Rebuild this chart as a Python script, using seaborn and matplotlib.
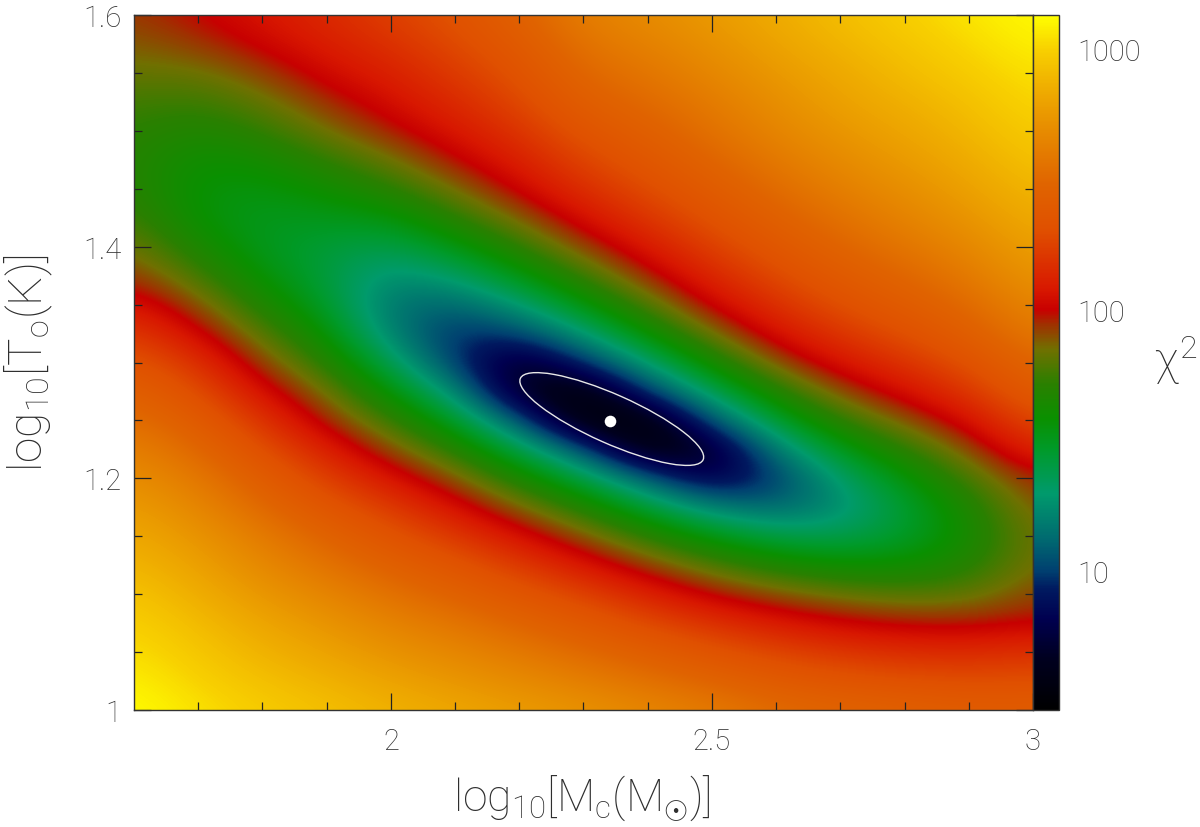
import numpy as np
import matplotlib
matplotlib.use("Agg")
import matplotlib.pyplot as plt
import seaborn as sns
from matplotlib.colors import LinearSegmentedColormap, Normalize
from matplotlib.patches import Ellipse
from matplotlib.transforms import Affine2D
from matplotlib.ticker import FixedLocator, NullFormatter, FixedFormatter

# grid positions of the estimated field
log_mc = [1.6, 1.7, 1.8, 1.9, 2.0, 2.1, 2.2, 2.3, 2.4, 2.5, 2.6, 2.7, 2.8, 2.9, 3.0]
log_t_top_down = [1.6, 1.575, 1.55, 1.525, 1.5, 1.475, 1.45, 1.425, 1.4, 1.375, 1.35, 1.325, 1.3,
                  1.275, 1.25, 1.225, 1.2, 1.175, 1.15, 1.125, 1.1, 1.075, 1.05, 1.025, 1.0]

# log10(chi^2), one list per log_mc column, top to bottom
c160 = [1.93,1.88,1.83,1.76,1.72,1.70,1.71,1.76,1.85,1.94,2.08,2.22,2.35,2.45,2.54,2.63,2.70,2.77,2.83,2.89,2.95,3.00,3.04,3.09,3.13]
c170 = [2.00,1.93,1.83,1.74,1.66,1.59,1.56,1.57,1.65,1.77,1.90,2.03,2.18,2.30,2.41,2.50,2.59,2.66,2.73,2.79,2.85,2.91,2.96,3.00,3.05]
c180 = [2.07,2.02,1.92,1.82,1.72,1.62,1.54,1.50,1.50,1.56,1.67,1.80,1.92,2.05,2.19,2.31,2.42,2.51,2.60,2.67,2.74,2.81,2.87,2.93,2.98]
c190 = [2.15,2.10,2.04,1.95,1.85,1.72,1.61,1.51,1.43,1.42,1.47,1.58,1.71,1.85,1.96,2.11,2.24,2.36,2.47,2.56,2.65,2.73,2.80,2.87,2.93]
c200 = [2.24,2.18,2.11,2.05,1.97,1.84,1.70,1.54,1.38,1.23,1.15,1.20,1.37,1.57,1.75,1.91,2.07,2.22,2.34,2.45,2.55,2.64,2.72,2.80,2.87]
c210 = [2.33,2.28,2.22,2.15,2.08,1.99,1.86,1.71,1.53,1.32,1.10,0.95,0.99,1.24,1.49,1.71,1.90,2.06,2.21,2.35,2.46,2.57,2.66,2.74,2.82]
c220 = [2.45,2.39,2.33,2.27,2.19,2.11,2.02,1.88,1.72,1.53,1.29,1.00,0.64,0.64,1.06,1.41,1.67,1.88,2.06,2.22,2.36,2.48,2.59,2.68,2.77]
c230 = [2.62,2.56,2.50,2.43,2.35,2.26,2.17,2.06,1.92,1.75,1.55,1.29,0.95,0.50,0.50,1.04,1.42,1.69,1.90,2.08,2.25,2.39,2.51,2.62,2.72]
c240 = [2.68,2.63,2.57,2.51,2.44,2.37,2.29,2.20,2.09,1.96,1.79,1.59,1.32,0.98,0.50,0.52,1.08,1.45,1.72,1.93,2.12,2.28,2.43,2.55,2.66]
c250 = [2.76,2.71,2.66,2.60,2.55,2.48,2.41,2.33,2.24,2.14,2.02,1.85,1.64,1.38,1.05,0.65,0.76,1.20,1.54,1.79,1.99,2.18,2.34,2.48,2.60]
c260 = [2.84,2.80,2.75,2.70,2.65,2.59,2.52,2.45,2.37,2.28,2.18,2.06,1.90,1.69,1.46,1.18,0.98,1.10,1.40,1.67,1.90,2.09,2.26,2.40,2.52]
c270 = [2.92,2.88,2.83,2.79,2.74,2.68,2.62,2.55,2.48,2.40,2.31,2.20,2.07,1.91,1.73,1.51,1.31,1.23,1.37,1.60,1.83,2.02,2.20,2.35,2.48]
c280 = [2.99,2.95,2.91,2.86,2.81,2.76,2.70,2.64,2.57,2.49,2.41,2.31,2.19,2.05,1.89,1.72,1.55,1.44,1.46,1.60,1.79,1.98,2.16,2.32,2.45]
c290 = [3.06,3.02,2.98,2.93,2.89,2.84,2.79,2.73,2.66,2.59,2.51,2.43,2.32,2.20,2.05,1.90,1.77,1.66,1.62,1.68,1.81,1.97,2.15,2.30,2.42]
c300 = [3.12,3.09,3.05,3.02,2.98,2.94,2.89,2.84,2.79,2.73,2.66,2.59,2.50,2.41,2.29,2.14,1.97,1.90,1.86,1.87,1.92,2.00,2.18,2.31,2.42]
columns = [c160, c170, c180, c190, c200, c210, c220, c230, c240, c250, c260, c270, c280, c290, c300]

best_mc = [2.341]
best_t = [1.2495]
contour_centre = (2.344, 1.2512)
contour_major = (0.1423, -0.0351)
contour_minor = (-0.0155, -0.0193)

x_major = [2, 2.5, 3]
x_labels = ["2", "2.5", "3"]
x_minor = [1.7, 1.8, 1.9, 2.1, 2.2, 2.3, 2.4, 2.6, 2.7, 2.8, 2.9]
y_major = [1, 1.2, 1.4, 1.6]
y_labels = ["1", "1.2", "1.4", "1.6"]
y_minor = [1.05, 1.1, 1.15, 1.25, 1.3, 1.35, 1.45, 1.5, 1.55]
chi_major = [10, 100, 1000]
chi_labels = ["10", "100", "1000"]
chi_minor = [4, 5, 6, 7, 8, 9, 20, 30, 40, 50, 60, 70, 80, 90, 200, 300, 400, 500, 600, 700, 800, 900]
chi_low, chi_high = 2.93, 1350

cmap_stops = [(0, "#000000"), (.073, "#00001f"), (.131, "#000050"), (.174, "#001a60"), (.2, "#004070"),
              (.246, "#006a70"), (.311, "#009a6c"), (.376, "#009a28"), (.419, "#0a9000"), (.469, "#2a8000"),
              (.519, "#707000"), (.555, "#a03000"), (.576, "#c80000"), (.606, "#d81800"), (.692, "#e05000"),
              (.757, "#e06400"), (.843, "#e89000"), (.90, "#f0b000"), (.951, "#f8d000"), (1, "#ffff00")]

sns.set_theme(style="white")
plt.rcParams["font.family"] = ["Roboto", "DejaVu Sans"]
plt.rcParams["font.weight"] = "light"
plt.rcParams["mathtext.fontset"] = "custom"
plt.rcParams["mathtext.rm"] = "Roboto:light"
plt.rcParams["mathtext.it"] = "Roboto:light"
plt.rcParams["mathtext.bf"] = "Roboto"
TXT = "#2e2e2e"
LINE = "#333333"

W, H = 1200, 828
fig = plt.figure(figsize=(W / 100, H / 100), dpi=100, facecolor="white")
ax = fig.add_axes([134 / W, 1 - 711 / H, 899 / W, 695 / H])
cax = fig.add_axes([1033 / W, 1 - 711 / H, 26 / W, 695 / H])

cmap = LinearSegmentedColormap.from_list("chi", cmap_stops, N=512)
norm = Normalize(np.log10(chi_low), np.log10(chi_high))
field = np.array(columns).T
dx = (log_mc[1] - log_mc[0]) / 2
dy = (log_t_top_down[0] - log_t_top_down[1]) / 2
im = ax.imshow(field, cmap=cmap, norm=norm, interpolation="bicubic", aspect="auto", origin="upper",
               extent=[log_mc[0] - dx, log_mc[-1] + dx, log_t_top_down[-1] - dy, log_t_top_down[0] + dy])

conj = Affine2D.from_values(contour_major[0], contour_major[1], contour_minor[0], contour_minor[1],
                            contour_centre[0], contour_centre[1])
ax.add_patch(Ellipse((0, 0), 2, 2, fill=False, edgecolor="#e8e8e8", linewidth=1.0,
                     transform=conj + ax.transData))
sns.scatterplot(x=best_mc, y=best_t, ax=ax, color="white", s=70, linewidth=0, zorder=5, legend=False)

ax.set_xlim(1.6, 3.0)
ax.set_ylim(1.0, 1.6)
ax.xaxis.set_major_locator(FixedLocator(x_major))
ax.xaxis.set_major_formatter(FixedFormatter(x_labels))
ax.xaxis.set_minor_locator(FixedLocator(x_minor))
ax.yaxis.set_major_locator(FixedLocator(y_major))
ax.yaxis.set_major_formatter(FixedFormatter(y_labels))
ax.yaxis.set_minor_locator(FixedLocator(y_minor))
ax.tick_params(which="both", direction="in", top=True, right=True, bottom=True, left=True, color="#222222")
ax.tick_params(which="major", length=12, width=0.9, labelsize=21, labelcolor=TXT, pad=12)
ax.tick_params(which="minor", length=6, width=0.9)
ax.tick_params(axis="y", which="major", pad=9)

cb = fig.colorbar(im, cax=cax)
cb.outline.set_edgecolor(LINE)
cb.outline.set_linewidth(1.0)
cax.yaxis.set_major_locator(FixedLocator(np.log10(chi_major)))
cax.yaxis.set_major_formatter(FixedFormatter(chi_labels))
cax.yaxis.set_minor_locator(FixedLocator(np.log10(chi_minor)))
cax.yaxis.set_minor_formatter(NullFormatter())
cax.tick_params(which="both", direction="in", right=True, left=False, color="#222222")
cax.tick_params(which="major", length=12, width=0.9, labelsize=21, labelcolor=TXT, pad=13)
cax.tick_params(which="minor", length=6, width=0.9)

for s in ax.spines.values():
    s.set_edgecolor(LINE)
    s.set_linewidth(1.0)

fig.text(582 / W, 1 - 798 / H, r"log$_{10}$[M$_{\rm c}$(M$_{\odot}$)]", fontsize=32, color=TXT,
         ha="center", va="center")
fig.text(28 / W, 1 - 363 / H, r"log$_{10}$[T$_{\rm o}$(K)]", fontsize=33, color=TXT,
         ha="center", va="center", rotation=90)
fig.text(1176 / W, 1 - 360 / H, r"$\chi^2$", fontsize=33, color=TXT, ha="center", va="center")

fig.savefig("out.png", dpi=100, facecolor="white")
